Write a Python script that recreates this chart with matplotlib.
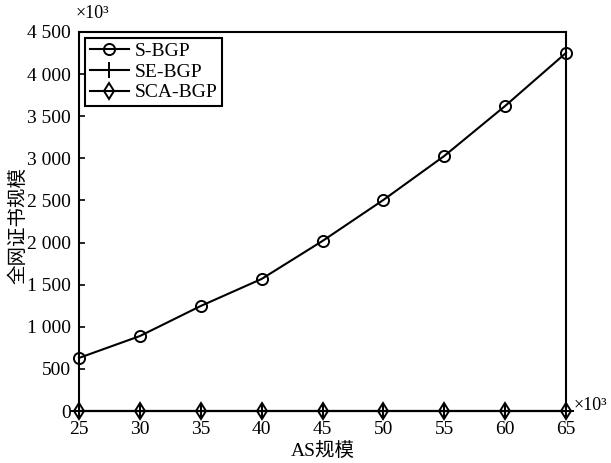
import matplotlib
matplotlib.use("Agg")
import matplotlib.pyplot as plt

plt.rcParams['font.family'] = ['Liberation Serif', 'Noto Sans CJK SC']
plt.rcParams['axes.unicode_minus'] = False

as_scale = [25, 30, 35, 40, 45, 50, 55, 60, 65]
s_bgp = [630, 890, 1247, 1568, 2019, 2506, 3028, 3622, 4252]
se_bgp = [0, 0, 0, 0, 0, 0, 0, 0, 0]
sca_bgp = [0, 0, 0, 0, 0, 0, 0, 0, 0]
yticks = [0, 500, 1000, 1500, 2000, 2500, 3000, 3500, 4000, 4500]
ytick_labels = ['0', '500', '1 000', '1 500', '2 000', '2 500', '3 000', '3 500', '4 000', '4 500']
xticks = [25, 30, 35, 40, 45, 50, 55, 60, 65]

fig = plt.figure(figsize=(6.11, 4.63), dpi=100)
ax = fig.add_axes([79/611, 1 - 411/463, (566-79)/611, (411-32)/463])

ax.plot(as_scale, s_bgp, color='black', lw=1.5, marker='o', ms=8, mfc='none', mew=1.4,
        label='S-BGP', clip_on=False, zorder=3)
ax.plot(as_scale, se_bgp, color='black', lw=1.5, marker='+', ms=11, mew=1.4,
        label='SE-BGP', clip_on=False, zorder=3)
ax.plot(as_scale, sca_bgp, color='black', lw=1.5, marker='d', ms=8, mfc='none', mew=1.4,
        label='SCA-BGP', clip_on=False, zorder=3)

ax.set_xlim(25, 65)
ax.set_ylim(0, 4500)
ax.set_xticks(xticks)
ax.set_yticks(yticks)
ax.set_yticklabels(ytick_labels)
ax.tick_params(direction='in', length=4, width=1.2, labelsize=14, colors='black')
ax.tick_params(axis='x', pad=7)
ax.tick_params(axis='y', pad=6)
for s in ax.spines.values():
    s.set_linewidth(1.5)

ax.set_xlabel('AS规模', fontsize=14, labelpad=3)
ax.set_ylabel('全网证书规模', fontsize=14)
ax.yaxis.set_label_coords(-0.105, 0.49)

fig.text(92/611, 1 - 14/463, '×10³', fontsize=13, ha='center', va='center')
fig.text(574/611, 1 - 405/463, '×10³', fontsize=13, ha='left', va='center')

leg = ax.legend(loc='upper left', fontsize=14, frameon=True, fancybox=False,
                edgecolor='black', framealpha=1, borderpad=0.25, labelspacing=0.15,
                handlelength=2.0, handletextpad=0.3, borderaxespad=0.3)
leg.get_frame().set_linewidth(1.5)

fig.savefig('out.png', dpi=100)
